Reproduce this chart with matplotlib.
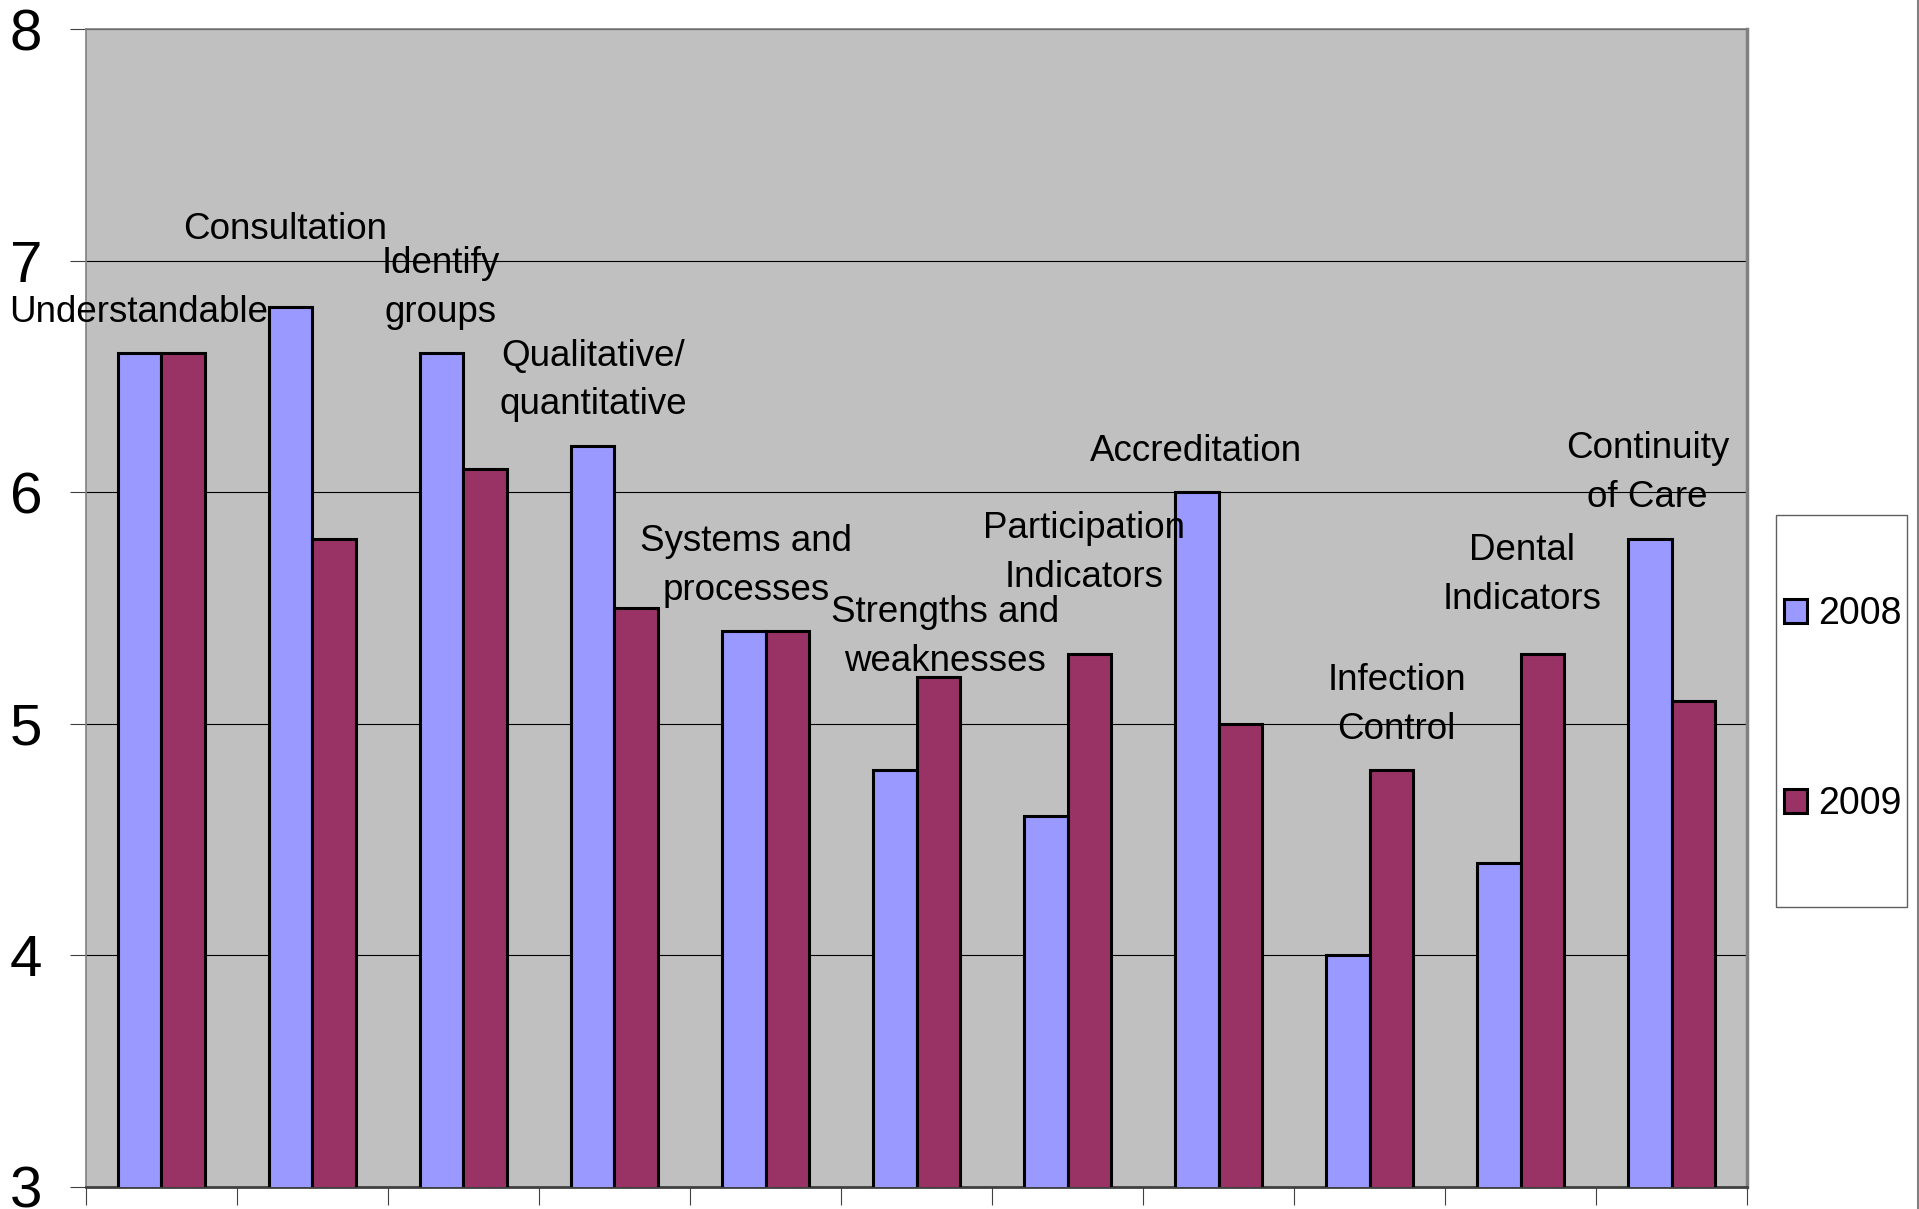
import numpy as np
import matplotlib.pyplot as plt
from matplotlib.lines import Line2D
from matplotlib.patches import Rectangle

plt.rcParams['font.family'] = ['Liberation Sans Narrow', 'Liberation Sans', 'DejaVu Sans']

categories = ['Understandable', 'Consultation', 'Identify\ngroups', 'Qualitative/\nquantitative',
              'Systems and\nprocesses', 'Strengths and\nweaknesses', 'Participation\nIndicators',
              'Accreditation', 'Infection\nControl', 'Dental\nIndicators', 'Continuity\nof Care']
v2008 = [6.6, 6.8, 6.6, 6.2, 5.4, 4.8, 4.6, 6.0, 4.0, 4.4, 5.8]
v2009 = [6.6, 5.8, 6.1, 5.5, 5.4, 5.2, 5.3, 5.0, 4.8, 5.3, 5.1]
series = ['2008', '2009']

# label layout: horizontal shift (category units) and gap above tallest bar (points)
label_dx = [-0.15, -0.18, -0.15, -0.14, -0.13, 0.19, 0.11, -0.15, 0.18, 0.01, -0.16]
label_gap = [17, 43, 17, 17, 17, -1, 43, 17, 17, 27, 17]

c08 = '#9999FF'
c09 = '#993366'

fig = plt.figure(figsize=(19.19, 12.09), dpi=100)
ax = fig.add_axes([0.0448, 0.0182, 0.8656, 0.9578])
ax.set_facecolor('#C0C0C0')

x = np.arange(len(categories))
w = 0.29
ax.bar(x - w/2, v2008, w, color=c08, edgecolor='black', linewidth=2.2, label=series[0], zorder=3)
ax.bar(x + w/2, v2009, w, color=c09, edgecolor='black', linewidth=2.2, label=series[1], zorder=3)

ax.set_ylim(3, 8)
ax.set_xlim(-0.5, len(categories) - 0.5)
ax.set_yticks([3, 4, 5, 6, 7, 8])
ax.yaxis.grid(True, color='black', linewidth=0.8, zorder=1)
ax.set_axisbelow(True)
ax.tick_params(axis='y', direction='out', length=11.5, width=0.8, pad=20, labelsize=42, color='#404040')
ax.set_xticks(np.arange(len(categories) + 1) - 0.5)
ax.set_xticklabels([])
ax.tick_params(axis='x', direction='out', length=13, width=0.8, color='#404040')

for s in ['left', 'top']:
    ax.spines[s].set_color('#808080')
    ax.spines[s].set_linewidth(1.2)
ax.spines['right'].set_color('#808080')
ax.spines['right'].set_linewidth(2.5)
ax.spines['bottom'].set_color('#404040')
ax.spines['bottom'].set_linewidth(2)

for i, lab in enumerate(categories):
    top = max(v2008[i], v2009[i])
    ax.annotate(lab, xy=(x[i] + label_dx[i], top), xytext=(0, label_gap[i]),
                textcoords='offset points', ha='center', va='bottom',
                multialignment='center', fontsize=26.5, linespacing=1.5, zorder=5)

# legend box
fig.add_artist(Rectangle((1776/1919, 1 - 907/1209), 131/1919, 392/1209,
                         transform=fig.transFigure, facecolor='white', edgecolor='#606060', linewidth=1))
fig.legend(loc='center', bbox_to_anchor=(1843/1919, 1 - 709/1209), frameon=False,
           fontsize=27, labelspacing=4.1, handlelength=0.6, handleheight=0.6, handletextpad=0.3)

fig.add_artist(Line2D([0.9993, 0.9993], [0, 1], transform=fig.transFigure, color='#808080', linewidth=1.5))

fig.savefig('out.png', dpi=100)
